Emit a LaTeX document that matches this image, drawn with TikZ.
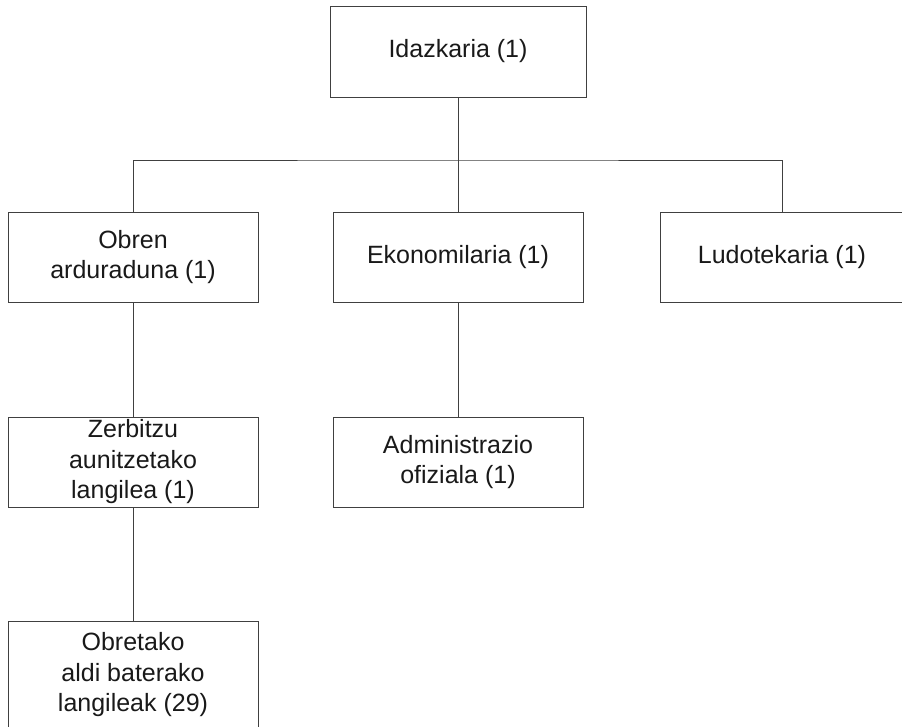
\documentclass[tikz,border=0pt]{standalone}
\usepackage{fontspec}
\setmainfont{Liberation Sans}
\begin{document}
\begin{tikzpicture}[x=1pt, y=-1pt, line width=1pt,
	postu/.style={rectangle, draw=black!75, text=black!90, align=center, text centered,
		minimum width=250pt, minimum height=90pt, inner sep=0pt,
		font=\fontsize{25}{30.5}\selectfont},
	lotura/.style={draw=black!75}]
		
		\useasboundingbox (0,0) rectangle (902,726);
		\clip (0,0) rectangle (902,726);
		
		%Goiko maila
		\node (idazkaria) at (458,51.5) [postu, minimum width=256pt, minimum height=91pt]{Idazkaria (1)};
		
		%Bigarren maila
		\node (obren) at (133,257) [postu]{Obren\\arduraduna (1)};
		
		\node (ekonomilaria) at (458,257) [postu]{Ekonomilaria (1)};
		
		\node (ludotekaria) at (782,257) [postu, minimum width=244pt]{Ludotekaria (1)};
		
		%Hirugarren maila
		\node (zerbitzu) at (133,462) [postu]{Zerbitzu\\aunitzetako\\langilea (1)};
		
		\node (administrazio) at (458,462) [postu]{Administrazio\\ofiziala (1)};
		
		%Laugarren maila
		\node (obretako) at (133,675) [postu, minimum height=108pt]{Obretako\\aldi baterako\\langileak (29)};
		
		%Loturak
		\coordinate (adarra) at (458,160);
		\draw[lotura] (idazkaria.south) -- (adarra);
		\draw[lotura] (obren.north) |- (adarra) -| (ludotekaria.north);
		\draw[lotura] (adarra) -- (ekonomilaria.north);
		
		\draw[lotura] (obren) -- (zerbitzu);
		\draw[lotura] (zerbitzu) -- (obretako);
		\draw[lotura] (ekonomilaria) -- (administrazio);
		
\end{tikzpicture}
\end{document}
